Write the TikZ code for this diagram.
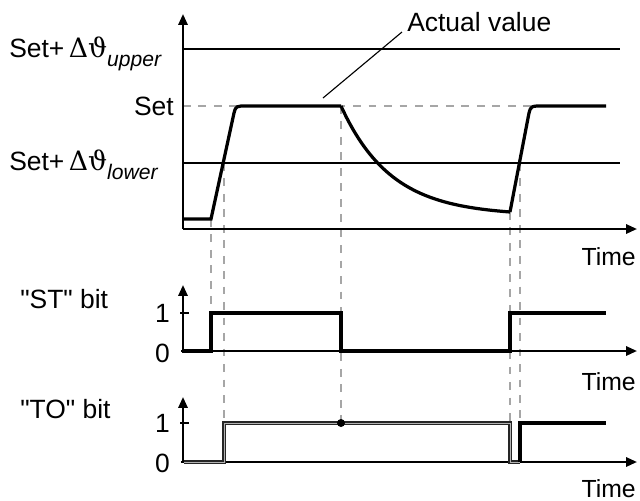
\documentclass[tikz,border=0pt]{standalone}
\usepackage{fontspec}
\setmainfont{Liberation Sans}
\newfontfamily\plainfont{Liberation Sans}
\newfontfamily\grkfont{DejaVu Serif}
\usetikzlibrary{arrows.meta}
% threshold label: Set+ Delta theta with italic subscript
\newcommand{\setdelta}[1]{Set+\,{\grkfont\fontsize{19}{22}\selectfont\char"0394\char"03D1}%
  \raisebox{-7pt}{\fontsize{15}{18}\selectfont\itshape #1}}

\begin{document}
\begin{tikzpicture}[
  x=0.025cm, y=-0.025cm,
  font=\fontsize{18.8}{22}\selectfont,
  axis/.style={line width=1.6pt, -{Triangle[length=7.8pt, width=6.6pt]}},
  thr/.style={line width=1.6pt},
  sig/.style={line width=2.3pt},
  tobit/.style={draw=black!85, line width=2.2pt},
  tocore/.style={draw=gray!60, line width=0.5pt},
  guide/.style={gray!70, line width=1.1pt, dash pattern=on 5.5pt off 5.5pt},
  leader/.style={line width=0.8pt},
  lbl/.style={inner sep=0pt},
  timelbl/.style={inner sep=0pt, anchor=base east, font=\fontsize{17.6}{21}\selectfont},
]
\useasboundingbox (0,0) rectangle (640,501);

% guide lines (behind everything)
\draw[guide] (183,106) -- (606,106);
\draw[guide] (211,219) -- (211,313);
\draw[guide] (224,163) -- (224,423);
\draw[guide] (341,106) -- (341,423);
\draw[guide] (510,212) -- (510,462);
\draw[guide] (520,163) -- (520,462);

% actual value chart
\draw[thr] (183,49) -- (620,49);
\draw[thr] (183,163) -- (620,163);
\draw[axis] (183,229) -- (183,14);
\draw[axis] (183,229) -- (637,229);
\draw[sig] (182,219) -- (211,219) -- (234,113)
  .. controls (236,106) .. (247,106) -- (341,106);
\draw[sig] plot[domain=0:169, samples=60] ({341+\x}, {106+109.7*(1-exp(-\x/50))});
\draw[sig] (510,212) -- (529,113)
  .. controls (531,106) .. (543,106) -- (606,106);

\node[lbl, anchor=base west] (upper) at (9,57) {\setdelta{upper}};
\node[lbl, anchor=base east] (set) at (174,115) {Set};
\node[lbl, anchor=base west] (lower) at (9,170) {\setdelta{lower}};
\node[lbl, anchor=base west] (actual) at (407,31) {Actual value};
\coordinate (lead) at (402,32);
\coordinate (tip) at (323,98);
\draw[leader] (lead) -- (tip);
\node[timelbl] (time1) at (636,265) {Time};

% "ST" bit
\node[lbl, anchor=base west] (st) at (20,308) {\plainfont "ST" bit};
\draw[axis] (183,351) -- (183,285);
\draw[axis] (181,351) -- (637,351);
\draw[thr] (180,313) -- (189,313);
\node[lbl, anchor=east] (st1) at (170,313) {1};
\node[lbl, anchor=east] (st0) at (170,353) {0};
\draw[sig] (182,351) -- (211,351) -- (211,313) -- (341,313) -- (341,351)
  -- (510,351) -- (510,313) -- (606,313);
\node[timelbl] (time2) at (636,390) {Time};

% "TO" bit
\node[lbl, anchor=base west] (tob) at (20,418) {\plainfont "TO" bit};
\draw[axis] (183,462) -- (183,397);
\draw[axis] (181,462) -- (637,462);
\draw[thr] (180,423) -- (189,423);
\node[lbl, anchor=east] (to1) at (170,423) {1};
\node[lbl, anchor=east] (to0) at (170,463) {0};
\draw[tobit] (184,462) -- (224,462) -- (224,423) -- (510,423) -- (510,462) -- (520,462);
\draw[tocore] (184,462) -- (224,462) -- (224,423) -- (510,423) -- (510,462) -- (520,462);
\draw[sig] (520,462) -- (520,423) -- (606,423);
\fill (341,423) circle[radius=4];
\node[timelbl] (time3) at (636,497) {Time};
\end{tikzpicture}
\end{document}
